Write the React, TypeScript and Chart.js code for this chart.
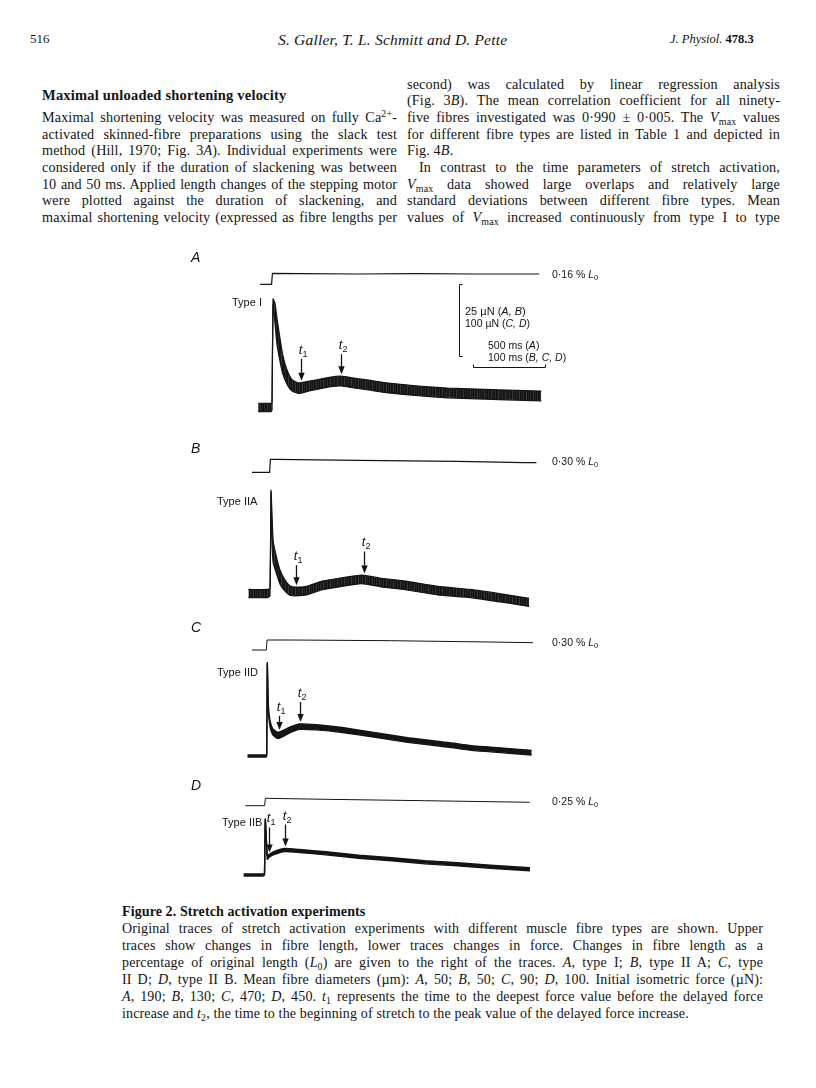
import React, { useEffect, useLayoutEffect, useRef } from 'react';
import { Chart, registerables } from 'chart.js';
Chart.register(...registerables);

// ---------------- DATA ----------------
// Time in ms from the start of the stretch; force change in µN above initial isometric force;
// length change in % of L0. Force traces are noisy: stored as upper and lower envelopes.

// Panel A – type I
const timeA = [-96, -7, 0, 7, 21, 34, 55, 75, 103, 137, 178, 199, 260, 329, 397, 479, 569, 671, 808, 1014, 1219, 1425, 1630, 1870];
const forceUpperA = [1.3, 1.3, 1.6, 37.5, 36.0, 31.0, 24.0, 18.0, 13.0, 9.6, 8.4, 8.4, 9.0, 9.6, 10.3, 10.7, 10.0, 9.3, 8.3, 7.3, 6.6, 6.2, 5.9, 5.5];
const forceLowerA = [-1.6, -1.6, -1.0, 35.5, 29.0, 22.0, 16.0, 11.5, 8.0, 5.6, 4.8, 4.8, 5.6, 6.3, 7.0, 7.3, 6.6, 5.9, 4.9, 3.9, 3.2, 2.8, 2.5, 2.1];
const lenTimeA = [-82, -3, 3, 200, 600, 1000, 1400, 1856];
const lenA = [0, 0, 0.16, 0.155, 0.15, 0.155, 0.15, 0.15];

// Panel B – type IIA
const timeB = [-30, -3, 0, 1.4, 2.7, 4.5, 9.6, 13.7, 20.5, 27.4, 35.6, 50.7, 72.6, 95.9, 127, 155, 188, 233, 278, 325, 360];
const forceUpperB = [1.4, 1.4, 1.8, 35.8, 28.0, 18.0, 12.0, 8.3, 4.8, 2.7, 2.2, 2.5, 4.3, 5.3, 6.4, 5.3, 4.3, 2.5, 1.4, -0.3, -1.7];
const forceLowerB = [-1.4, -1.4, -0.8, 35.0, 19.0, 10.5, 6.5, 3.3, 0.9, -0.6, -0.8, -0.5, 1.3, 2.3, 3.4, 2.3, 1.3, -0.5, -1.4, -3.1, -4.5];
const lenTimeB = [-25, -0.5, 0.5, 9, 123, 260, 352, 370];
const lenB = [0, 0, 0.30, 0.30, 0.277, 0.253, 0.225, 0.222];

// Panel C – type IID
const timeC = [-26.6, -1, 0, 0.8, 2.2, 4.5, 8.2, 13.7, 18.2, 31.9, 45.6, 68.5, 105, 151, 196, 242, 288, 333, 368];
const forceUpperC = [1.4, 1.4, 3, 129.5, 72, 50, 38, 33.5, 33.5, 40, 44.5, 43.5, 39.5, 32.4, 25.4, 19.9, 13.9, 10.6, 7.8];
const forceLowerC = [-1.4, -1.4, 0, 128, 65, 41.5, 29.5, 25, 25, 32, 37, 36.3, 32.7, 26, 19, 13.5, 7.5, 4.2, 1.4];
const lenTimeC = [-20.5, -0.5, 0.5, 36, 173, 310, 370];
const lenC = [0, 0, 0.30, 0.30, 0.279, 0.24, 0.219];

// Panel D – type IIB
const timeD = [-29.7, -2.3, -0.7, 0.4, 3.2, 5.5, 11.4, 27.4, 48, 84.5, 130, 176, 222, 267, 313, 368];
const forceUpperD = [1.4, 1.4, 2.5, 78, 27, 28.5, 32.2, 36.8, 35.4, 32.2, 27.5, 23.9, 19.7, 17, 13.6, 10];
const forceLowerD = [-1.4, -1.4, 0, 76.5, 22, 24.3, 28, 32.6, 31.2, 28, 23.3, 19.7, 15.5, 12.8, 9.4, 5.8];
const lenTimeD = [-27.4, -0.5, 0.5, 84.5, 221.5, 367.6];
const lenD = [0, 0, 0.25, 0.216, 0.169, 0.115];

// t1 / t2 times (ms) for panels A, B, C, D
const t1Times = [199, 35.6, 17.5, 5.5];
const t2Times = [479, 130, 45.6, 27.4];

// Labels
const panelLetters = ['A', 'B', 'C', 'D'];
const fibreTypes = ['Type I', 'Type IIA', 'Type IID', 'Type IIB'];
const lengthSteps = ['0·16', '0·30', '0·30', '0·25'];
const forceBarUnits = [25, 25, 100, 100]; // µN represented by the vertical scale bar
const timeBarUnits = [500, 100, 100, 100]; // ms represented by the horizontal scale bar

// ---------------- LAYOUT ----------------
const CANVAS_LEFT = 200;
const CANVAS_RIGHT = 620;
const BAR_PX = 72; // length of the scale bars in px

const geoms = [
  { top: 258, bottom: 420, stepX: 272, forceBaseY: 407, lenBaseY: 284.3, lenPx: 11 / 0.16, arrowLen: [22, 20], letterY: 258, typeX: 232, typeY: 303, lenLabelY: 275, noisy: true },
  { top: 448, bottom: 612, stepX: 270, forceBaseY: 593.5, lenBaseY: 472.3, lenPx: 13 / 0.30, arrowLen: [20, 22], letterY: 449, typeX: 217, typeY: 502, lenLabelY: 462, noisy: true },
  { top: 630, bottom: 768, stepX: 266.7, forceBaseY: 756, lenBaseY: 650, lenPx: 10 / 0.30, arrowLen: [14, 20], letterY: 628, typeX: 217, typeY: 673, lenLabelY: 643, noisy: false },
  { top: 790, bottom: 888, stepX: 265, forceBaseY: 875, lenBaseY: 805.7, lenPx: 7.4 / 0.25, arrowLen: [25, 22], letterY: 786, typeX: 222, typeY: 823, lenLabelY: 802, noisy: false },
];

const series = [
  { time: timeA, upper: forceUpperA, lower: forceLowerA, lenTime: lenTimeA, len: lenA },
  { time: timeB, upper: forceUpperB, lower: forceLowerB, lenTime: lenTimeB, len: lenB },
  { time: timeC, upper: forceUpperC, lower: forceLowerC, lenTime: lenTimeC, len: lenC },
  { time: timeD, upper: forceUpperD, lower: forceLowerD, lenTime: lenTimeD, len: lenD },
];

const INK = '#141414';
const serif = '"Liberation Serif", "Times New Roman", serif';
const sans = '"Liberation Sans", Arial, sans-serif';
// fixed streak colours used to texture the noisy force band
const STREAKS = ['#111111', '#2e2e2e', '#111111', '#161616', '#3a3a3a', '#111111', '#242424'];

function interp(xs: number[], ys: number[], x: number) {
  for (let i = 1; i < xs.length; i++) {
    if (x <= xs[i]) {
      const f = (x - xs[i - 1]) / (xs[i] - xs[i - 1]);
      return ys[i - 1] + f * (ys[i] - ys[i - 1]);
    }
  }
  return ys[ys.length - 1];
}

function TracePanel({ idx }: { idx: number }) {
  const ref = useRef<HTMLCanvasElement>(null);
  const g = geoms[idx];
  const s = series[idx];
  const W = CANVAS_RIGHT - CANVAS_LEFT;
  const H = g.bottom - g.top;

  useEffect(() => {
    const canvas = ref.current!;
    const msPerPx = timeBarUnits[idx] / BAR_PX;
    const forcePx = BAR_PX / forceBarUnits[idx];
    const pts = (xs: number[], ys: number[]) => xs.map((x, i) => ({ x, y: ys[i] }));

    let bandFill: any = INK;
    if (g.noisy) {
      const pc = document.createElement('canvas');
      pc.width = STREAKS.length;
      pc.height = 2;
      const p = pc.getContext('2d')!;
      STREAKS.forEach((c, i) => {
        p.fillStyle = c;
        p.fillRect(i, 0, 1, 2);
      });
      const pat = canvas.getContext('2d')!.createPattern(pc, 'repeat');
      if (pat) bandFill = pat;
    }

    const arrows = [
      { t: t1Times[idx], len: g.arrowLen[0], sub: '1' },
      { t: t2Times[idx], len: g.arrowLen[1], sub: '2' },
    ];

    const arrowPlugin = {
      id: 'arrows' + idx,
      afterDatasetsDraw(chart: any) {
        const ctx = chart.ctx as CanvasRenderingContext2D;
        const xs = chart.scales.x;
        const ys = chart.scales.yF;
        ctx.save();
        ctx.strokeStyle = INK;
        ctx.fillStyle = INK;
        for (const a of arrows) {
          const x = Math.round(xs.getPixelForValue(a.t)) + 0.5;
          const tip = ys.getPixelForValue(interp(s.time, s.upper, a.t)) - 2;
          const top = tip - a.len;
          ctx.lineWidth = 1.3;
          ctx.beginPath();
          ctx.moveTo(x, top);
          ctx.lineTo(x, tip - 5);
          ctx.stroke();
          ctx.beginPath();
          ctx.moveTo(x, tip);
          ctx.lineTo(x - 3.2, tip - 8);
          ctx.lineTo(x + 3.2, tip - 8);
          ctx.closePath();
          ctx.fill();
          ctx.textAlign = 'center';
          ctx.textBaseline = 'alphabetic';
          ctx.font = `italic 13px ${sans}`;
          ctx.fillText('t', x - 1, top - 5);
          ctx.font = `9px ${sans}`;
          ctx.fillText(a.sub, x + 3.5, top - 2);
        }
        ctx.restore();
      },
    };

    const scaleBarPlugin = {
      id: 'scalebar' + idx,
      afterDraw(chart: any) {
        if (idx !== 0) return;
        const ctx = chart.ctx as CanvasRenderingContext2D;
        const ys = chart.scales.yF;
        const xs = chart.scales.x;
        const lv = ys.getPixelForValue(0) - ys.getPixelForValue(forceBarUnits[0]);
        const lh = xs.getPixelForValue(timeBarUnits[0]) - xs.getPixelForValue(0);
        const vx = 459.5 - CANVAS_LEFT;
        const vy = 284.5 - g.top;
        const hx = 545.5 - CANVAS_LEFT;
        const hy = 367.5 - g.top;
        ctx.save();
        ctx.strokeStyle = INK;
        ctx.lineWidth = 1;
        ctx.beginPath();
        ctx.moveTo(vx + 3, vy);
        ctx.lineTo(vx, vy);
        ctx.lineTo(vx, vy + lv);
        ctx.lineTo(vx + 3, vy + lv);
        ctx.stroke();
        ctx.beginPath();
        ctx.moveTo(hx - lh, hy - 3);
        ctx.lineTo(hx - lh, hy);
        ctx.lineTo(hx, hy);
        ctx.lineTo(hx, hy - 3);
        ctx.stroke();
        ctx.restore();
      },
    };

    const chart = new Chart(canvas, {
      type: 'line',
      data: {
        datasets: [
          {
            data: pts(s.lenTime, s.len),
            yAxisID: 'yL',
            borderColor: INK,
            borderWidth: g.noisy ? 1.2 : 1,
            pointRadius: 0,
            fill: false,
            tension: 0,
          },
          {
            data: pts(s.time, s.upper),
            yAxisID: 'yF',
            borderColor: INK,
            borderWidth: g.noisy ? 1.2 : 1.4,
            pointRadius: 0,
            fill: false,
            tension: 0.15,
          },
          {
            data: pts(s.time, s.lower),
            yAxisID: 'yF',
            borderColor: INK,
            borderWidth: g.noisy ? 1.2 : 1.4,
            pointRadius: 0,
            fill: '-1',
            backgroundColor: bandFill,
            tension: 0.15,
          },
        ],
      } as any,
      options: {
        responsive: false,
        maintainAspectRatio: false,
        animation: false,
        devicePixelRatio: 1,
        layout: { padding: 0 },
        events: [],
        plugins: { legend: { display: false }, tooltip: { enabled: false }, title: { display: false } },
        scales: {
          x: {
            type: 'linear',
            display: false,
            min: -(g.stepX - CANVAS_LEFT) * msPerPx,
            max: (CANVAS_RIGHT - g.stepX) * msPerPx,
          },
          yF: {
            type: 'linear',
            display: false,
            min: -(g.bottom - g.forceBaseY) / forcePx,
            max: (g.forceBaseY - g.top) / forcePx,
          },
          yL: {
            type: 'linear',
            display: false,
            min: -(g.bottom - g.lenBaseY) / g.lenPx,
            max: (g.lenBaseY - g.top) / g.lenPx,
          },
        },
      } as any,
      plugins: [arrowPlugin, scaleBarPlugin],
    });
    return () => chart.destroy();
  }, []);

  return (
    <canvas
      ref={ref}
      width={W}
      height={H}
      style={{ position: 'absolute', left: CANVAS_LEFT, top: g.top, width: W, height: H }}
    />
  );
}

const Sub = ({ children }: any) => (
  <span style={{ fontSize: '0.7em', position: 'relative', top: '0.3em' }}>{children}</span>
);
const Sup = ({ children }: any) => (
  <span style={{ fontSize: '0.7em', position: 'relative', top: '-0.45em' }}>{children}</span>
);
const Vmax = () => (
  <>
    <i>V</i>
    <Sub>max</Sub>
  </>
);

// One typeset line. When w is given the line is justified to width w by measuring it;
// if the words are too tight, the letter spacing is eased first.
function Line({ x, y, w, size = 14.5, ls = 0, font = serif, style, children }: any) {
  const ref = useRef<HTMLSpanElement>(null);
  useLayoutEffect(() => {
    const el = ref.current;
    if (!el || !w) return;
    const fit = () => {
      const text = el.textContent || '';
      const spaces = (text.match(/ /g) || []).length;
      if (spaces === 0) return;
      el.style.letterSpacing = `${ls}px`;
      el.style.wordSpacing = '0px';
      let natural = el.getBoundingClientRect().width;
      const minGap = 1.2;
      if ((w - natural) / spaces < minGap) {
        const deficit = natural + minGap * spaces - w;
        el.style.letterSpacing = `${ls - deficit / text.length}px`;
        natural = el.getBoundingClientRect().width;
      }
      el.style.wordSpacing = `${(w - natural) / spaces}px`;
    };
    fit();
    if ((document as any).fonts && (document as any).fonts.ready) (document as any).fonts.ready.then(fit);
  }, []);
  return (
    <div
      style={{
        position: 'absolute',
        left: x,
        top: y - size * 0.66,
        fontFamily: font,
        fontSize: size,
        letterSpacing: ls,
        lineHeight: `${Math.round(size * 1.2)}px`,
        whiteSpace: 'nowrap',
        color: INK,
        ...style,
      }}
    >
      <span ref={ref}>{children}</span>
    </div>
  );
}

export default function App() {
  const LX = 42, LW = 355, RX = 407, RW = 373;
  const rows = [85, 101.7, 118.3, 135, 151.7, 168.3, 185, 201.7, 218.3];
  const CX = 122, CW = 641;
  const crow = [929, 946, 963, 980, 997, 1014];
  const B = { size: 14.2, ls: 0.12 };
  const C = { size: 14, ls: 0.15 };
  return (
    <div style={{ position: 'absolute', left: 0, top: 0, width: 816, height: 1088, background: '#fff', overflow: 'hidden' }}>
      {/* Running head */}
      <Line x={30} y={40} size={13}>516</Line>
      <Line x={278} y={40} size={15.5} ls={0.2} style={{ fontStyle: 'italic' }}>S. Galler, T. L. Schmitt and D. Pette</Line>
      <Line x={670} y={40} size={12.5}>
        <i>J. Physiol.</i> <b>478.3</b>
      </Line>

      {/* Left column */}
      <Line x={LX} y={97} size={14.5} ls={0.2} style={{ fontWeight: 'bold' }}>Maximal unloaded shortening velocity</Line>
      <Line x={LX} y={rows[2]} w={LW} {...B}>Maximal shortening velocity was measured on fully Ca<Sup>2+</Sup>-</Line>
      <Line x={LX} y={rows[3]} w={LW} {...B}>activated skinned-fibre preparations using the slack test</Line>
      <Line x={LX} y={rows[4]} w={LW} {...B}>method (Hill, 1970; Fig. 3<i>A</i>). Individual experiments were</Line>
      <Line x={LX} y={rows[5]} w={LW} {...B}>considered only if the duration of slackening was between</Line>
      <Line x={LX} y={rows[6]} w={LW} {...B}>10 and 50 ms. Applied length changes of the stepping motor</Line>
      <Line x={LX} y={rows[7]} w={LW} {...B}>were plotted against the duration of slackening, and</Line>
      <Line x={LX} y={rows[8]} w={LW} {...B}>maximal shortening velocity (expressed as fibre lengths per</Line>

      {/* Right column */}
      <Line x={RX} y={rows[0]} w={RW} {...B}>second) was calculated by linear regression analysis</Line>
      <Line x={RX} y={rows[1]} w={RW} {...B}>(Fig. 3<i>B</i>). The mean correlation coefficient for all ninety-</Line>
      <Line x={RX} y={rows[2]} w={RW} {...B}>five fibres investigated was 0·990 ± 0·005. The <Vmax /> values</Line>
      <Line x={RX} y={rows[3]} w={RW} {...B}>for different fibre types are listed in Table 1 and depicted in</Line>
      <Line x={RX} y={rows[4]} {...B}>Fig. 4<i>B</i>.</Line>
      <Line x={RX + 12} y={rows[5]} w={RW - 12} {...B}>In contrast to the time parameters of stretch activation,</Line>
      <Line x={RX} y={rows[6]} w={RW} {...B}><Vmax /> data showed large overlaps and relatively large</Line>
      <Line x={RX} y={rows[7]} w={RW} {...B}>standard deviations between different fibre types. Mean</Line>
      <Line x={RX} y={rows[8]} w={RW} {...B}>values of <Vmax /> increased continuously from type I to type</Line>

      {/* Figure */}
      {geoms.map((g, i) => (
        <React.Fragment key={i}>
          <TracePanel idx={i} />
          <Line x={191} y={g.letterY} size={14} font={sans} style={{ fontStyle: 'italic' }}>{panelLetters[i]}</Line>
          <Line x={g.typeX} y={g.typeY} size={11} font={sans}>{fibreTypes[i]}</Line>
          <Line x={552} y={g.lenLabelY} size={10.5} font={sans}>
            {lengthSteps[i]} % <i>L</i><Sub>0</Sub>
          </Line>
        </React.Fragment>
      ))}
      <Line x={465} y={312} size={11} font={sans}>25 µN (<i>A, B</i>)</Line>
      <Line x={465} y={324} size={10.5} font={sans}>100 µN (<i>C, D</i>)</Line>
      <Line x={488} y={346} size={10.5} font={sans}>500 ms (<i>A</i>)</Line>
      <Line x={488} y={358} size={10.5} font={sans}>100 ms (<i>B, C, D</i>)</Line>

      {/* Caption */}
      <Line x={CX} y={912} size={14} ls={0.1} style={{ fontWeight: 'bold' }}>Figure 2. Stretch activation experiments</Line>
      <Line x={CX} y={crow[0]} w={CW} {...C}>Original traces of stretch activation experiments with different muscle fibre types are shown. Upper</Line>
      <Line x={CX} y={crow[1]} w={CW} {...C}>traces show changes in fibre length, lower traces changes in force. Changes in fibre length as a</Line>
      <Line x={CX} y={crow[2]} w={CW} {...C}>percentage of original length (<i>L</i><Sub>0</Sub>) are given to the right of the traces. <i>A</i>, type I; <i>B</i>, type II A; <i>C</i>, type</Line>
      <Line x={CX} y={crow[3]} w={CW} {...C}>II D; <i>D</i>, type II B. Mean fibre diameters (µm): <i>A</i>, 50; <i>B</i>, 50; <i>C</i>, 90; <i>D</i>, 100. Initial isometric force (µN):</Line>
      <Line x={CX} y={crow[4]} w={CW} {...C}><i>A</i>, 190; <i>B</i>, 130; <i>C</i>, 470; <i>D</i>, 450. <i>t</i><Sub>1</Sub> represents the time to the deepest force value before the delayed force</Line>
      <Line x={CX} y={crow[5]} {...C}>increase and <i>t</i><Sub>2</Sub>, the time to the beginning of stretch to the peak value of the delayed force increase.</Line>
    </div>
  );
}
